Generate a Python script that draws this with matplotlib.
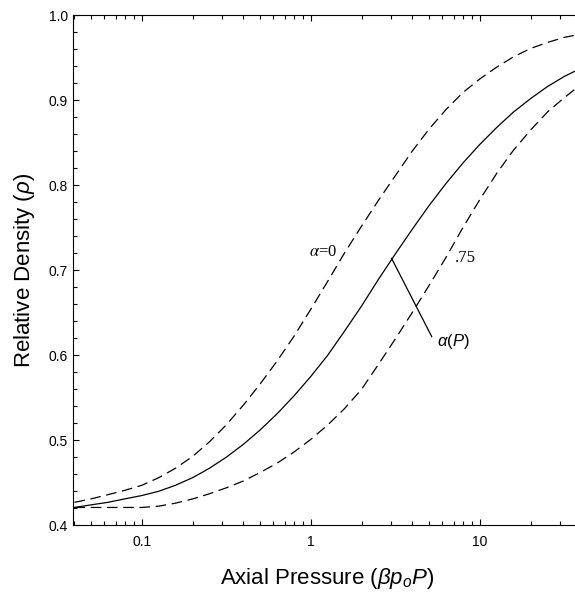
import numpy as np
import matplotlib
matplotlib.use("Agg")
import matplotlib.pyplot as plt
from matplotlib.ticker import LogLocator, FixedLocator, FixedFormatter, MultipleLocator, NullFormatter

plt.rcParams['font.family'] = ['Liberation Sans', 'DejaVu Sans']
plt.rcParams['mathtext.fontset'] = 'custom'
plt.rcParams['mathtext.rm'] = 'Liberation Sans'
plt.rcParams['mathtext.it'] = 'Liberation Sans:italic'
plt.rcParams['mathtext.bf'] = 'Liberation Sans:bold'

# Data
P = [0.04, 0.05, 0.063, 0.079, 0.1, 0.126, 0.158, 0.2, 0.251, 0.316, 0.398, 0.501,
     0.631, 0.794, 1, 1.26, 1.58, 2, 2.51, 3.16, 3.98, 5.01, 6.31, 7.94, 10,
     12.6, 15.8, 20, 25.1, 31.6, 40]
rho_alpha0 = [0.427, 0.431, 0.436, 0.441, 0.447, 0.456, 0.467, 0.481, 0.498, 0.518,
              0.541, 0.566, 0.593, 0.622, 0.654, 0.687, 0.720, 0.752, 0.782, 0.811,
              0.840, 0.866, 0.889, 0.909, 0.925, 0.939, 0.951, 0.961, 0.968, 0.974, 0.978]
rho_alphaP = [0.421, 0.424, 0.427, 0.431, 0.435, 0.440, 0.447, 0.456, 0.467, 0.480,
              0.495, 0.512, 0.531, 0.552, 0.575, 0.600, 0.628, 0.658, 0.689, 0.719,
              0.748, 0.776, 0.802, 0.826, 0.848, 0.868, 0.886, 0.902, 0.916, 0.928, 0.938]
rho_alpha75 = [0.421, 0.421, 0.421, 0.421, 0.421, 0.4225, 0.426, 0.431, 0.437, 0.444,
               0.452, 0.462, 0.473, 0.486, 0.501, 0.518, 0.537, 0.560, 0.589, 0.619,
               0.650, 0.682, 0.715, 0.750, 0.783, 0.814, 0.841, 0.865, 0.886, 0.903, 0.919]

x_major = [0.1, 1, 10]
x_major_labels = ['0.1', '1', '10']
y_major = [0.4, 0.5, 0.6, 0.7, 0.8, 0.9, 1.0]

fig = plt.figure(figsize=(5.75, 5.94), dpi=100)
W, H = 575.0, 594.0
left_px, top_px, bottom_px = 73.3, 15.3, 525.3
xmin, xmax = 0.03937, 40.0
decade_px = 169.0
width_px = decade_px * (np.log10(xmax) - np.log10(xmin))
ax = fig.add_axes([left_px / W, (H - bottom_px) / H, width_px / W, (bottom_px - top_px) / H])

lw = 0.9
ax.plot(P, rho_alpha0, color='black', lw=lw, dashes=(8.5, 4.5))
ax.plot(P, rho_alphaP, color='black', lw=lw)
ax.plot(P, rho_alpha75, color='black', lw=lw, dashes=(8.5, 4.5))

ax.set_xscale('log')
ax.set_xlim(xmin, xmax)
ax.set_ylim(0.4, 1.0)

ax.xaxis.set_major_locator(FixedLocator(x_major))
ax.xaxis.set_major_formatter(FixedFormatter(x_major_labels))
ax.xaxis.set_minor_locator(LogLocator(base=10, subs=np.arange(2, 10), numticks=20))
ax.xaxis.set_minor_formatter(NullFormatter())
ax.yaxis.set_major_locator(FixedLocator(y_major))
ax.yaxis.set_minor_locator(MultipleLocator(0.02))
ax.set_yticklabels([f'{v:.1f}' for v in y_major])

ax.tick_params(which='both', direction='in', top=True, right=True, labelsize=10, width=0.8)
ax.tick_params(which='major', length=4.5)
ax.tick_params(which='minor', length=3)
ax.tick_params(axis='x', pad=7)
ax.tick_params(axis='y', pad=4)
for s in ax.spines.values():
    s.set_linewidth(0.8)

ax.set_xlabel(r'Axial Pressure ($\beta p_o P$)', fontsize=16, labelpad=12)
ax.set_ylabel(r'Relative Density ($\rho$)', fontsize=16, labelpad=8)

# annotations
ax.text(1.43, 0.722, r'$\alpha$=0', family='Liberation Serif', math_fontfamily='stix',
        fontsize=12, ha='right', va='center')
ax.text(7.14, 0.7145, '.75', family='Liberation Serif', fontsize=12, ha='left', va='center')
ax.plot([3.01, 5.20], [0.714, 0.622], color='black', lw=0.9)
ax.text(5.59, 0.616, r'$\alpha$($P$)', fontsize=12, ha='left', va='center')

fig.savefig('out.png', dpi=100)
